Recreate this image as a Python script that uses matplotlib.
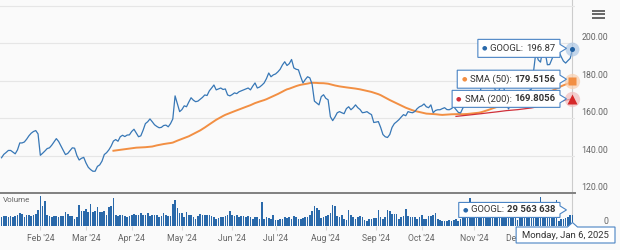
import numpy as np
import pandas as pd
import matplotlib
matplotlib.use("Agg")
import matplotlib.pyplot as plt
from matplotlib.patches import Polygon

plt.rcParams["font.family"] = ["Roboto", "DejaVu Sans"]

# --- data (GOOGL daily, Jan 8 2024 .. Jan 6 2025) ---
holidays = ["2024-01-15", "2024-02-19", "2024-03-29", "2024-05-27", "2024-06-19",
            "2024-07-04", "2024-09-02", "2024-11-28", "2024-12-25", "2025-01-01"]
dates = pd.bdate_range("2024-01-08", "2025-01-06", freq="C", holidays=holidays)

close = [
    # Jan
    138.8, 140.6, 141.6, 142.7, 142.7, 141.8, 140.9, 143.0, 146.7, 146.7, 147.2, 148.7, 150.5, 151.9, 152.8, 153.3, 151.5,
    # Feb
    140.1, 141.2, 142.4, 143.7, 144.1, 145.5, 147.2, 149.0, 147.5, 145.1, 142.8, 140.5, 141.1, 142.6, 144.1, 143.9, 140.0, 137.6, 138.5, 139.0,
    # Mar
    136.0, 133.7, 132.5, 131.6, 131.6, 134.2, 135.0, 137.0, 140.5, 141.5, 143.0, 145.0, 147.7, 148.5, 147.6, 150.0, 150.8, 150.1, 150.9, 151.0,
    # Apr
    152.8, 154.0, 152.0, 150.0, 150.5, 153.5, 157.0, 158.0, 159.5, 158.0, 156.4, 155.5, 154.8, 155.0, 156.0, 156.2, 155.3, 157.0, 159.5, 171.8, 167.5, 163.4,
    # May
    164.5, 166.5, 166.0, 168.5, 170.8, 169.5, 168.7, 169.0, 170.0, 171.0, 172.3, 172.0, 174.5, 176.0, 177.6, 175.0, 175.5, 176.0, 175.2, 175.5, 172.3, 171.8,
    # Jun
    172.5, 173.4, 173.0, 174.0, 174.5, 175.0, 175.5, 176.0, 175.0, 177.0, 178.7, 176.0, 176.5, 177.5, 178.7, 181.0, 184.0, 182.0, 183.0,
    # Jul
    183.5, 184.6, 186.0, 188.3, 190.0, 188.0, 189.0, 191.2, 186.7, 186.0, 185.7, 182.0, 178.7, 180.5, 182.0, 181.4, 178.0, 169.0, 168.0, 167.0, 171.4, 172.4,
    # Aug
    170.5, 169.7, 160.7, 158.6, 160.5, 162.8, 163.4, 162.8, 162.3, 165.0, 166.0, 164.4, 165.5, 167.0, 165.5, 164.5, 162.8, 163.0, 163.4, 162.5, 161.8, 157.6,
    # Sep
    157.8, 158.1, 155.0, 151.2, 150.0, 149.6, 151.2, 155.0, 157.0, 158.0, 159.1, 160.5, 161.8, 161.2, 163.4, 163.0, 162.8, 163.5, 165.0, 166.0,
    # Oct
    166.5, 167.5, 166.0, 165.5, 167.0, 162.8, 164.0, 164.4, 164.4, 165.0, 165.5, 164.5, 164.4, 165.0, 166.0, 164.5, 163.0, 162.7, 165.3, 166.7, 169.7, 174.5, 171.1,
    # Nov
    171.3, 169.2, 169.7, 176.5, 180.7, 178.4, 180.4, 181.6, 178.9, 175.6, 172.5, 175.3, 178.1, 176.0, 167.6, 164.8, 167.7, 169.0, 169.2, 169.0,
    # Dec
    171.5, 171.3, 174.4, 172.6, 174.7, 175.4, 185.2, 195.4, 191.0, 189.8, 196.7, 195.4, 188.4, 188.5, 191.4, 194.6, 196.1, 195.6, 192.8, 190.4, 189.3,
    # Jan 2025
    190.6, 191.8, 196.87,
]

volume_m = [
    25, 26, 27, 24, 26, 24, 27, 29, 35, 33,
    24, 29, 30, 27, 29, 33, 42, 79, 54, 65,
    29, 27, 24, 27, 27, 24, 27, 27, 37, 33,
    27, 27, 20, 24, 56, 41, 41, 46, 37, 59,
    37, 41, 50, 37, 37, 39, 29, 50, 54, 73,
    30, 27, 29, 30, 27, 24, 27, 29, 33, 30,
    29, 35, 29, 30, 35, 26, 29, 29, 29, 24,
    27, 35, 30, 27, 27, 59, 68, 48, 35, 35,
    24, 37, 29, 30, 24, 18, 27, 33, 30, 30,
    29, 29, 27, 24, 20, 22, 24, 24, 27, 29,
    39, 30, 27, 29, 24, 27, 27, 24, 27, 24,
    20, 24, 24, 20, 62, 18, 24, 22, 20, 30,
    16, 16, 20, 20, 24, 22, 24, 18, 27, 24,
    18, 20, 22, 24, 24, 29, 39, 53, 48, 42,
    22, 24, 27, 30, 35, 56, 53, 27, 24, 30,
    20, 16, 42, 30, 24, 20, 24, 27, 24, 16,
    13, 18, 20, 22, 22, 42, 24, 20, 24, 42,
    39, 33, 33, 33, 20, 24, 28, 44, 27, 24,
    24, 24, 20, 24, 30, 18, 20, 27, 28, 30,
    35, 20, 17, 15, 13, 15, 17, 14, 16, 18,
    15, 20, 24, 26, 30, 73, 40, 30, 28, 26,
    45, 33, 30, 28, 27, 26, 28, 25, 24, 30,
    32, 64, 40, 34, 28, 22, 16, 26, 24, 25,
    22, 23, 25, 38, 48, 40, 75, 32, 30, 28,
    45, 27, 25, 68, 15, 20, 18, 21, 25, 30,
    29.563638,
]

tip_date = "Monday, Jan 6, 2025"
tip_price = "196.87"
tip_sma50 = "179.5156"
tip_sma200 = "169.8056"
tip_volume = "29 563 638"

price_ticks = [120, 140, 160, 180, 200]

# --- derived ---
n = len(close)
x = np.arange(n)
close_s = pd.Series(close)
sma50 = close_s.rolling(50).mean()
sma200 = close_s.rolling(200).mean()
volume = np.array(volume_m) * 1e6

# first trading day of each month; the Jan '25 label sits under the date box, so skip it
month_idx = [i for i in range(1, n) if dates[i].month != dates[i - 1].month and dates[i].year == 2024]
month_lbl = [dates[i].strftime("%b '%y") for i in month_idx]

# --- layout ---
W, H = 620, 250
BG = "#fafafa"
BLUE = "#3777b6"
ORANGE = "#f28f43"
RED = "#d0303a"
GRID = "#e6e6e6"
LABEL = "#666666"
TXT = "#333333"


def rect(l, t, r, b):
    return [l / W, 1 - b / H, (r - l) / W, (b - t) / H]


fig = plt.figure(figsize=(W / 100, H / 100), dpi=100, facecolor=BG)
ax = fig.add_axes(rect(0, 0, 575, 193))
axv = fig.add_axes(rect(0, 194, 575, 226.3), sharex=ax)
for a in (ax, axv):
    a.set_facecolor("none")
    for s in a.spines.values():
        s.set_visible(False)

ax.set_xlim(-0.66, 251.1)
ax.set_ylim(120, 120 + 193 / 1.875)
ax.set_yticks(price_ticks + [220])
ax.yaxis.grid(True, color=GRID, lw=0.8)
ax.tick_params(axis="both", length=0, labelleft=False, labelbottom=False)
ax.spines["bottom"].set_visible(True)
ax.spines["bottom"].set_color("#808080")
ax.spines["bottom"].set_linewidth(1.4)

for v in price_ticks:
    ax.annotate(f"{v:.2f}", xy=(1, v), xycoords=("axes fraction", "data"),
                xytext=(33, 5), textcoords="offset pixels", ha="right", va="center",
                fontsize=6.3, color=LABEL, annotation_clip=False)

ax.axvline(n - 1, color="#cccccc", lw=0.8, zorder=1)
ax.plot(x, close, color=BLUE, lw=0.9, zorder=3)
ax.plot(x, sma50, color=ORANGE, lw=1.4, zorder=2)
ax.plot(x, sma200, color=RED, lw=0.9, zorder=2)

# hover markers on the last point
ax.plot(n - 1, close[-1], "o", ms=10, color="#9fbfe2", alpha=0.6, mec="none", clip_on=False, zorder=5)
ax.plot(n - 1, close[-1], "o", ms=3.6, color="#1f5fa0", mec="none", clip_on=False, zorder=6)
ax.plot(n - 1, sma50.iloc[-1], "o", ms=11, color="#f9cfae", alpha=0.7, mec="none", clip_on=False, zorder=5)
ax.plot(n - 1, sma50.iloc[-1], "s", ms=6, color=ORANGE, mec="none", clip_on=False, zorder=6)
ax.plot(n - 1, sma200.iloc[-1], "o", ms=11, color="#f1bcbc", alpha=0.7, mec="none", clip_on=False, zorder=5)
ax.plot(n - 1, sma200.iloc[-1], "^", ms=6.5, color="#d62728", mec="none", clip_on=False, zorder=6)

# volume pane
axv.bar(x, volume, width=0.72, color="#2a69aa", lw=0)
axv.set_ylim(0, 84e6)
axv.set_yticks([])
axv.axvline(n - 1, color="#cccccc", lw=0.8, zorder=0)
axv.set_xticks(month_idx)
axv.set_xticklabels(month_lbl)
axv.tick_params(axis="x", length=3, width=0.8, color="#d8d8d8", pad=2.5,
                labelsize=6.2, labelcolor=LABEL)
axv.annotate("0", xy=(1, 0), xycoords=("axes fraction", "data"),
             xytext=(33, 5), textcoords="offset pixels", ha="right", va="center",
             fontsize=6.3, color=LABEL, annotation_clip=False)

# --- overlay: tooltips, menu icon, pane title (pixel coordinates) ---
ov = fig.add_axes([0, 0, 1, 1])
ov.set_xlim(0, W)
ov.set_ylim(H, 0)
ov.axis("off")
renderer = fig.canvas.get_renderer()


def to_px(axes, xv, yv):
    dx, dy = axes.transData.transform((xv, yv))
    return dx, H - dy


def tooltip(parts, right, yc, h, tip=None):
    # parts are laid out right to left; gap is the space left of each part
    cur = right - 5
    for text, color, weight, size, gap in reversed(parts):
        t = ov.text(cur, yc, text, ha="right", va="center", fontsize=size,
                    color=color, fontweight=weight, zorder=11)
        cur = cur - t.get_window_extent(renderer).width - gap
    left = cur - 4
    top, bot = yc - h / 2, yc + h / 2
    pts = [(left, top), (right, top)]
    if tip is not None:
        pts += [(right, yc - 4), (tip, yc), (right, yc + 4)]
    pts += [(right, bot), (left, bot)]
    ov.add_patch(Polygon(pts, closed=True, fc="white", ec="#4a84c4", lw=0.8, zorder=10))


px, py = to_px(ax, n - 1, close[-1])
_, py50 = to_px(ax, n - 1, sma50.iloc[-1])
_, py200 = to_px(ax, n - 1, sma200.iloc[-1])
_, pyv = to_px(axv, n - 1, volume[-1])

tooltip([("●", "#2a69aa", "normal", 4.5, 0), ("GOOGL: ", TXT, "normal", 6.8, 3),
         (tip_price, TXT, "normal", 6.8, 0)], px - 12.5, py - 0.5, 18, tip=px - 6)
tooltip([("●", ORANGE, "normal", 4.5, 0), ("SMA (50): ", TXT, "normal", 6.8, 3),
         (tip_sma50, TXT, "bold", 6.8, 0)], px - 12.5, py50 - 2, 18, tip=px - 6)
tooltip([("●", RED, "normal", 4.5, 0), ("SMA (200): ", TXT, "normal", 6.8, 3),
         (tip_sma200, TXT, "bold", 6.8, 0)], px - 12.5, py200, 17, tip=px - 6)
tooltip([("●", "#2a69aa", "normal", 4.5, 0), ("GOOGL: ", TXT, "normal", 6.8, 3),
         (tip_volume, TXT, "bold", 6.8, 0)], px - 12.5, pyv - 5, 15, tip=px - 6)

# date label under the crosshair
dt = ov.text(0, 0, tip_date, ha="center", va="center", fontsize=6.8, color=TXT, zorder=11)
dw = dt.get_window_extent(renderer).width + 12
cx = min(px, W - 5 - dw / 2)
dt.set_position((cx, 235))
ov.add_patch(Polygon([(cx - dw / 2, 227), (px - 5, 227), (px, 222.5), (px + 5, 227),
                      (cx + dw / 2, 227), (cx + dw / 2, 243), (cx - dw / 2, 243)],
                     closed=True, fc="white", ec="#4a84c4", lw=0.8, zorder=10))

for yy in (10.7, 14.3, 17.9):
    ov.plot([592, 605], [yy, yy], color=LABEL, lw=1.4, solid_capstyle="butt")

ov.text(3, 200.5, "Volume", fontsize=5.8, color=LABEL, va="center")

fig.savefig("out.png", dpi=100, facecolor=BG)
